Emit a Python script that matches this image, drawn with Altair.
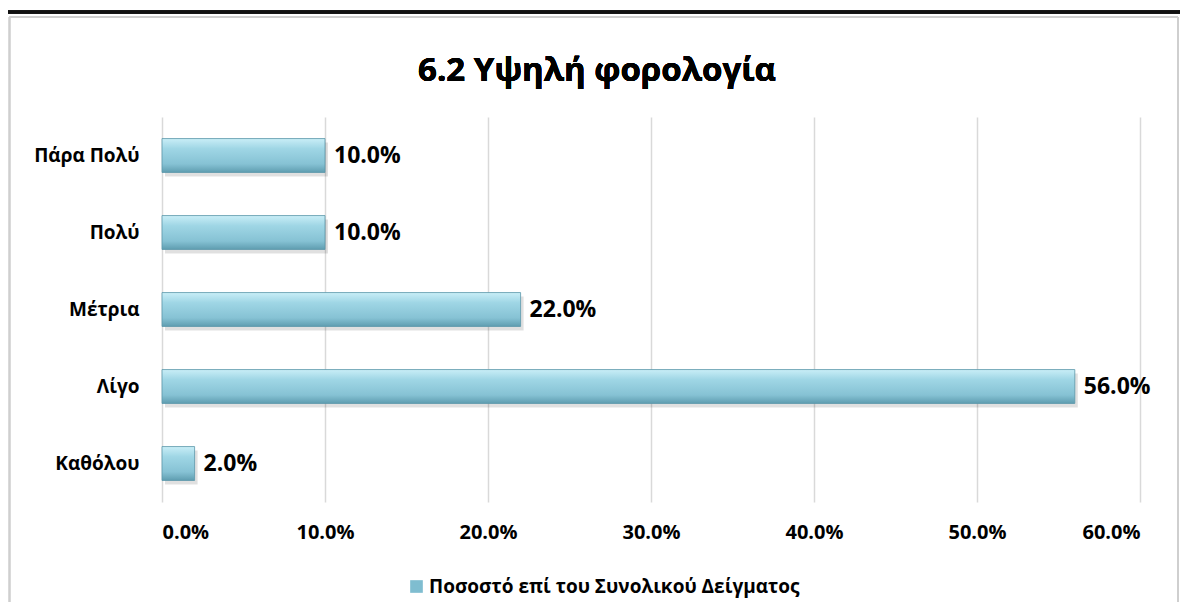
import altair as alt
import pandas as pd

title_text = "6.2 Υψηλή φορολογία"
categories = ["Πάρα Πολύ", "Πολύ", "Μέτρια", "Λίγο", "Καθόλου"]
values = [10.0, 10.0, 22.0, 56.0, 2.0]
series_name = "Ποσοστό επί του Συνολικού Δείγματος"
x_ticks = [0, 10, 20, 30, 40, 50, 60]

df = pd.DataFrame({
    "cat": categories,
    "val": values,
    "series": [series_name] * len(categories),
    "label": [f"{v:.1f}%" for v in values],
})

FONT = "Open Sans"
W, H = 978, 385

gradient = alt.Gradient(
    gradient="linear",
    stops=[
        alt.GradientStop(color="#c9eef7", offset=0),
        alt.GradientStop(color="#9fd6e5", offset=0.3),
        alt.GradientStop(color="#86c2d4", offset=0.75),
        alt.GradientStop(color="#5f9db0", offset=1),
    ],
    x1=0, x2=0, y1=0, y2=1,
)

y_enc = alt.Y(
    "cat:N",
    sort=categories,
    scale=alt.Scale(paddingInner=0.56, paddingOuter=0.28),
    axis=alt.Axis(
        title=None, labelFont=FONT, labelFontSize=19, labelFontWeight="bold",
        labelColor="#000000", labelPadding=23, ticks=False, domain=False, grid=False,
    ),
)
x_enc = alt.X(
    "val:Q",
    scale=alt.Scale(domain=[0, 60], nice=False),
    axis=alt.Axis(
        title=None, values=x_ticks, labelExpr="format(datum.value, '.1f') + '%'",
        labelFont=FONT, labelFontSize=20, labelFontWeight="bold", labelColor="#000000",
        labelPadding=20, ticks=False, domain=False, grid=True, gridColor="#d9d9d9",
        gridWidth=1.5,
    ),
)

shadow = alt.Chart(df).mark_bar(
    color="#000000", opacity=0.12, xOffset=3, yOffset=4
).encode(y=alt.Y("cat:N", sort=categories), x="val:Q")

bars = alt.Chart(df).mark_bar(
    stroke="#5a97aa", strokeWidth=0.8, fill=gradient
).encode(y=y_enc, x=x_enc)

legend_layer = alt.Chart(df).mark_square(opacity=1).encode(
    y=alt.Y("cat:N", sort=categories),
    x="val:Q",
    size=alt.value(0),
    color=alt.Color(
        "series:N",
        scale=alt.Scale(range=["#7fbdd0"]),
        legend=alt.Legend(
            title=None, orient="none", legendX=245, legendY=460,
            symbolType="square", symbolSize=160, symbolStrokeWidth=0,
            symbolFillColor="#7fbdd0", symbolOpacity=1,
            labelFont=FONT, labelFontSize=19, labelFontWeight="bold",
            labelColor="#000000", labelLimit=600, labelOffset=3,
        ),
    ),
)

labels = alt.Chart(df).mark_text(
    align="left", baseline="middle", dx=9, font=FONT, fontSize=23,
    fontWeight="bold", color="#000000",
).encode(y=alt.Y("cat:N", sort=categories), x="val:Q", text="label:N")

frame_l = alt.Chart(df).mark_rule(
    color="#cfcfcf", strokeWidth=1.5, clip=False
).encode(
    x=alt.value(-152.5), y=alt.value(-100), y2=alt.value(520)
)
frame_r = alt.Chart(df).mark_rule(
    color="#cfcfcf", strokeWidth=1.5, clip=False
).encode(
    x=alt.value(1016), y=alt.value(-100), y2=alt.value(520)
)
frame_t = alt.Chart(df).mark_rule(
    color="#cfcfcf", strokeWidth=1.5, clip=False
).encode(
    x=alt.value(-152.5), x2=alt.value(1016), y=alt.value(-100)
)
topline = alt.Chart(df).mark_rule(
    color="#111111", strokeWidth=3, clip=False
).encode(
    x=alt.value(-154), x2=alt.value(1018), y=alt.value(-105)
)
title = alt.Chart(df).mark_text(
    font=FONT, fontSize=33, fontWeight="bold", color="#000000",
    align="center", baseline="middle",
).encode(
    text=alt.value(title_text), x=alt.value(435), y=alt.value(-46)
)

chart = alt.layer(frame_l, frame_r, frame_t, topline, title, shadow, bars, labels, legend_layer).properties(
    width=W, height=H,
    autosize=alt.AutoSizeParams(type="none"),
    padding={"left": 154, "top": 109, "right": 40, "bottom": 100},
).configure_view(stroke=None)

chart.save("out.html", embed_options={"renderer": "svg", "actions": False})
